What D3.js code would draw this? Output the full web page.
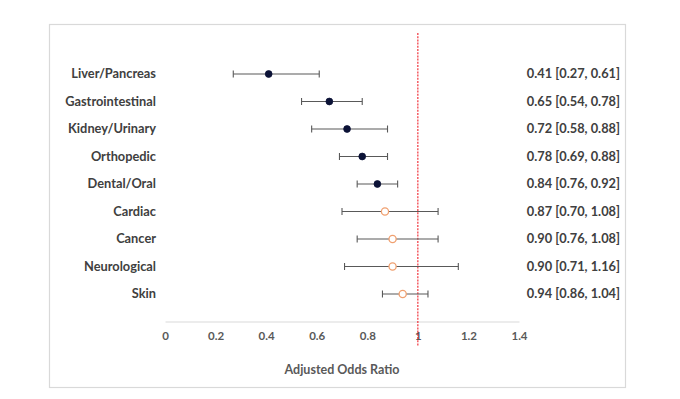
<!DOCTYPE html>
<html>
<head>
<meta charset="utf-8">
<script src="https://cdn.jsdelivr.net/npm/d3@7"></script>
<style>
  html, body { margin: 0; padding: 0; background: #fff; }
  svg text { font-family: Lato, "Open Sans", sans-serif; }
</style>
</head>
<body>
<svg id="chart" width="680" height="399"></svg>
<script>
// data
var categories = ['Liver/Pancreas', 'Gastrointestinal', 'Kidney/Urinary', 'Orthopedic',
                  'Dental/Oral', 'Cardiac', 'Cancer', 'Neurological', 'Skin'];
var oddsRatio = [0.41, 0.65, 0.72, 0.78, 0.84, 0.87, 0.90, 0.90, 0.94];
var lowerCI   = [0.27, 0.54, 0.58, 0.69, 0.76, 0.70, 0.76, 0.71, 0.86];
var upperCI   = [0.61, 0.78, 0.88, 0.88, 0.92, 1.08, 1.08, 1.16, 1.04];
var xTicks    = [0, 0.2, 0.4, 0.6, 0.8, 1, 1.2, 1.4];

var svg = d3.select('#chart');

// outer frame
svg.append('rect')
  .attr('x', 49.5).attr('y', 24.5)
  .attr('width', 576).attr('height', 363)
  .attr('fill', '#fff')
  .attr('stroke', '#d9d9d9')
  .attr('stroke-width', 1.2);

var x = d3.scaleLinear().domain([0, 1.4]).range([165, 519]);
// rows sit at 1..9, axis at 10
var y = d3.scaleLinear().domain([0, 10]).range([46.5, 321.5]);

var rows = categories.map(function(c, i) {
  return { name: c, or: oddsRatio[i], lo: lowerCI[i], hi: upperCI[i],
           pos: i + 1, sig: upperCI[i] < 1 };
});

// x axis
var axis = d3.axisBottom(x).tickValues(xTicks).tickSize(0).tickPadding(10)
  .tickFormat(function(d) { return d; });
var gx = svg.append('g').attr('transform', 'translate(0,' + y(10) + ')').call(axis);
gx.select('.domain').attr('stroke', '#d9d9d9').attr('stroke-width', 1.2);
gx.selectAll('text')
  .attr('fill', '#595959')
  .style('font-size', '11.5px')
  .style('font-weight', 'bold');

// axis title
svg.append('text')
  .attr('x', x(0.7)).attr('y', 374)
  .attr('text-anchor', 'middle')
  .attr('fill', '#595959')
  .style('font-size', '12.5px')
  .style('font-weight', 'bold')
  .text('Adjusted Odds Ratio');

// reference line at 1
svg.append('line')
  .attr('x1', x(1)).attr('x2', x(1))
  .attr('y1', 33).attr('y2', 346)
  .attr('stroke', '#f0202a')
  .attr('stroke-width', 1.1)
  .attr('stroke-dasharray', '2,1.2');

// category labels
svg.append('g').selectAll('text')
  .data(rows).enter().append('text')
    .attr('x', 156)
    .attr('y', function(d) { return y(d.pos); })
    .attr('dy', '0.35em')
    .attr('text-anchor', 'end')
    .attr('fill', '#404040')
    .style('font-size', '12.8px')
    .style('font-weight', 'bold')
    .text(function(d) { return d.name; });

// value labels
svg.append('g').selectAll('text')
  .data(rows).enter().append('text')
    .attr('x', 620)
    .attr('y', function(d) { return y(d.pos); })
    .attr('dy', '0.35em')
    .attr('text-anchor', 'end')
    .attr('fill', '#404040')
    .style('font-size', '12.8px')
    .style('font-weight', 'bold')
    .text(function(d) {
      return d.or.toFixed(2) + ' [' + d.lo.toFixed(2) + ', ' + d.hi.toFixed(2) + ']';
    });

// error bars
var bars = svg.append('g').attr('stroke', '#595959').attr('stroke-width', 1.1);
bars.selectAll('line.ci')
  .data(rows).enter().append('line')
    .attr('class', 'ci')
    .attr('x1', function(d) { return x(d.lo); })
    .attr('x2', function(d) { return x(d.hi); })
    .attr('y1', function(d) { return y(d.pos); })
    .attr('y2', function(d) { return y(d.pos); });
['lo', 'hi'].forEach(function(k) {
  bars.selectAll('line.cap-' + k)
    .data(rows).enter().append('line')
      .attr('class', 'cap-' + k)
      .attr('x1', function(d) { return x(d[k]); })
      .attr('x2', function(d) { return x(d[k]); })
      .attr('y1', function(d) { return y(d.pos) - 3.5; })
      .attr('y2', function(d) { return y(d.pos) + 3.5; });
});

// points
svg.append('g').selectAll('circle')
  .data(rows).enter().append('circle')
    .attr('cx', function(d) { return x(d.or); })
    .attr('cy', function(d) { return y(d.pos); })
    .attr('r', function(d) { return d.sig ? 3.4 : 3.6; })
    .attr('fill', function(d) { return d.sig ? '#0b1236' : '#fff'; })
    .attr('stroke', function(d) { return d.sig ? '#0b1236' : '#f0a070'; })
    .attr('stroke-width', function(d) { return d.sig ? 0.8 : 1.3; });
</script>
</body>
</html>
